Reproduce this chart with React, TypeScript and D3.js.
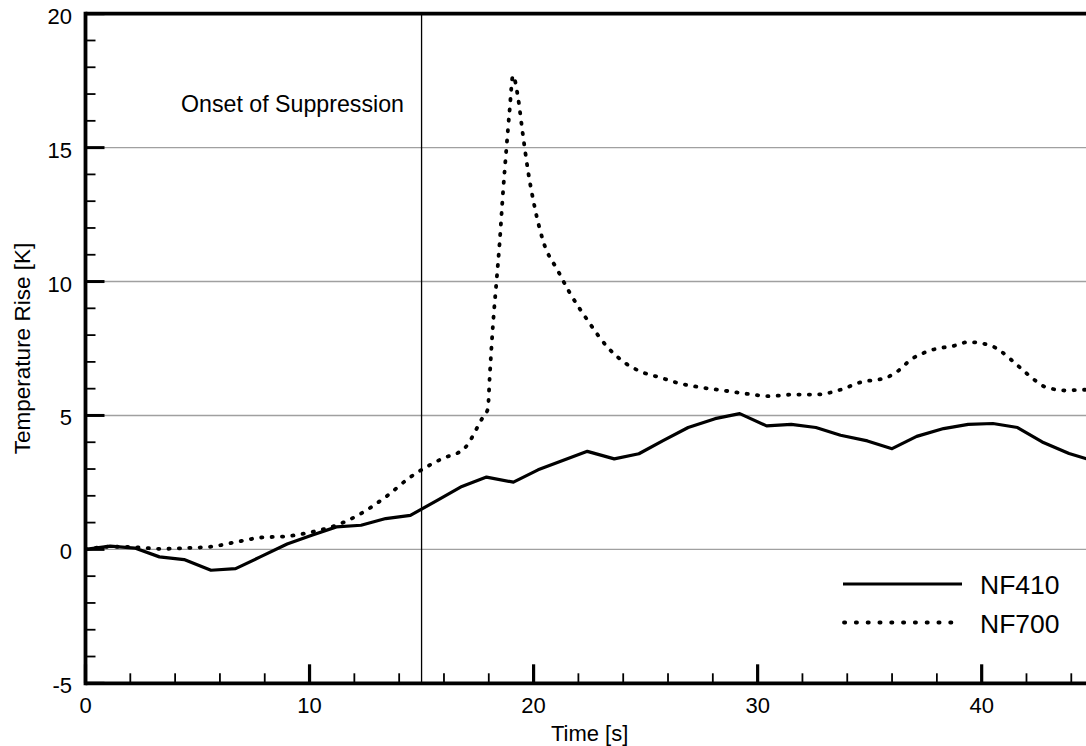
import React from "react";
import * as d3 from "d3";

const nf410Time = [0, 1.1, 2.2, 3.3, 4.4, 5.6, 6.7, 7.8, 9.0, 10.1, 11.2, 12.3, 13.4, 14.5, 15.7, 16.8, 17.9, 19.1, 20.2, 21.3, 22.4, 23.6, 24.7, 25.8, 26.9, 28.1, 29.2, 30.4, 31.5, 32.6, 33.7, 34.9, 36.0, 37.1, 38.3, 39.4, 40.5, 41.6, 42.7, 43.9, 45.0];
const nf410Values = [0, 0.12, 0.05, -0.28, -0.38, -0.78, -0.72, -0.28, 0.2, 0.53, 0.84, 0.9, 1.15, 1.27, 1.83, 2.35, 2.7, 2.51, 2.97, 3.32, 3.66, 3.38, 3.57, 4.07, 4.55, 4.88, 5.07, 4.61, 4.67, 4.55, 4.26, 4.05, 3.76, 4.22, 4.51, 4.67, 4.7, 4.55, 4.01, 3.58, 3.3];

const nf700Time = [0, 1.1, 2.2, 3.4, 4.5, 5.6, 6.7, 7.8, 9.0, 10.1, 11.2, 12.3, 13.4, 14.5, 15.9, 16.9, 17.7, 17.96, 18.04, 18.18, 18.36, 18.48, 18.63, 18.78, 18.93, 19.08, 19.3, 19.52, 19.75, 20.05, 20.42, 21.1, 21.6, 22.42, 23.3, 24.1, 25.0, 25.6, 26.5, 27.6, 28.5, 29.6, 30.5, 31.6, 32.6, 33.7, 34.6, 35.7, 36.1, 36.9, 37.8, 38.8, 39.4, 40.4, 40.8, 41.6, 42.4, 42.8, 43.8, 44.5, 45.0];
const nf700Values = [0, 0.1, 0.08, 0.02, 0.05, 0.1, 0.27, 0.44, 0.49, 0.65, 0.9, 1.34, 1.96, 2.7, 3.38, 3.76, 4.88, 5.25, 6.43, 8.3, 10.16, 11.4, 13.27, 14.9, 16.4, 17.69, 16.9, 15.5, 14.14, 12.77, 11.53, 10.38, 9.6, 8.54, 7.55, 6.95, 6.57, 6.43, 6.2, 6.03, 5.93, 5.8, 5.72, 5.78, 5.78, 5.96, 6.24, 6.4, 6.56, 7.12, 7.45, 7.61, 7.74, 7.61, 7.43, 6.87, 6.3, 6.08, 5.93, 5.96, 5.96];

const xMajorTicks = [0, 10, 20, 30, 40];
const xMinorTicks = [2, 4, 6, 8, 12, 14, 16, 18, 22, 24, 26, 28, 32, 34, 36, 38, 42, 44];
const yMajorTicks = [-5, 0, 5, 10, 15, 20];
const yMinorTicks = [-4, -3, -2, -1, 1, 2, 3, 4, 6, 7, 8, 9, 11, 12, 13, 14, 16, 17, 18, 19];
const gridValues = [0, 5, 10, 15];
const onsetTime = 15;
const seriesNames = ["NF410", "NF700"];
const xTitle = "Time [s]";
const yTitle = "Temperature Rise [K]";
const annotation = "Onset of Suppression";

const W = 1086;
const H = 746;
const FONT = "'Liberation Sans', Arial, Helvetica, sans-serif";

export default function App() {
  const x = d3.scaleLinear().domain([0, 45]).range([85.5, 1093.7]);
  const y = d3.scaleLinear().domain([-5, 20]).range([683.3, 13.7]);

  const line = d3.line<[number, number]>().x((d) => x(d[0])).y((d) => y(d[1]));
  const smooth = d3
    .line<[number, number]>()
    .x((d) => x(d[0]))
    .y((d) => y(d[1]))
    .curve(d3.curveMonotoneX);

  const nf410 = nf410Time.map((t, i) => [t, nf410Values[i]] as [number, number]);
  const nf700 = nf700Time.map((t, i) => [t, nf700Values[i]] as [number, number]);

  const x0 = x(0);
  const x1 = x(45);
  const yb = y(-5);
  const yt = y(20);

  return (
    <svg
      width={W}
      height={H}
      style={{ position: "absolute", left: 0, top: 0, background: "#fff" }}
      fontFamily={FONT}
    >
      <defs>
        <clipPath id="plot">
          <rect x={x0} y={yt} width={x1 - x0} height={yb - yt} />
        </clipPath>
      </defs>
      {gridValues.map((v) => (
        <line key={"g" + v} x1={x0} x2={x1} y1={y(v)} y2={y(v)} stroke="#a0a0a0" strokeWidth={1.4} />
      ))}
      <line x1={x(onsetTime)} x2={x(onsetTime)} y1={yb} y2={yt} stroke="#000" strokeWidth={1.3} />
      <text x={181} y={112} fontSize={23.2} fill="#000">
        {annotation}
      </text>
      <g clipPath="url(#plot)">
        <path d={line(nf410) || ""} fill="none" stroke="#000" strokeWidth={3.2} strokeLinejoin="round" />
        <path
          d={smooth(nf700) || ""}
          fill="none"
          stroke="#000"
          strokeWidth={3.8}
          strokeLinecap="round"
          strokeDasharray="1.2 9.2"
        />
      </g>
      {xMinorTicks.map((v) => (
        <line key={"xm" + v} x1={x(v)} x2={x(v)} y1={yb} y2={yb - 10} stroke="#000" strokeWidth={1.8} />
      ))}
      {xMajorTicks.map((v) => (
        <line key={"xM" + v} x1={x(v)} x2={x(v)} y1={yb} y2={yb - 19} stroke="#000" strokeWidth={3.2} />
      ))}
      {yMinorTicks.map((v) => (
        <line key={"ym" + v} x1={x0} x2={x0 + 10} y1={y(v)} y2={y(v)} stroke="#000" strokeWidth={1.8} />
      ))}
      {yMajorTicks.map((v) => (
        <line key={"yM" + v} x1={x0} x2={x0 + 19} y1={y(v)} y2={y(v)} stroke="#000" strokeWidth={3} />
      ))}
      <line x1={x0} x2={x1} y1={yb} y2={yb} stroke="#000" strokeWidth={3.8} />
      <line x1={x0} x2={x1} y1={yt} y2={yt} stroke="#000" strokeWidth={3.8} />
      <line x1={x0} x2={x0} y1={yt - 1.9} y2={yb + 1.9} stroke="#000" strokeWidth={3.8} />
      {xMajorTicks.map((v) => (
        <text key={"xl" + v} x={x(v)} y={713} fontSize={22} textAnchor="middle" fill="#000">
          {v}
        </text>
      ))}
      {yMajorTicks.map((v) => (
        <text key={"yl" + v} x={72} y={y(v) + 10} fontSize={22} textAnchor="end" fill="#000">
          {v}
        </text>
      ))}
      <text x={(x0 + x1) / 2} y={741} fontSize={22} textAnchor="middle" fill="#000">
        {xTitle}
      </text>
      <text
        transform={`translate(30, ${(yt + yb) / 2}) rotate(-90)`}
        fontSize={22.5}
        textAnchor="middle"
        fill="#000"
      >
        {yTitle}
      </text>
      <line x1={843} x2={962} y1={584} y2={584} stroke="#000" strokeWidth={3.2} />
      <text x={980} y={594} fontSize={26.5} fill="#000">
        {seriesNames[0]}
      </text>
      <line
        x1={844}
        x2={962}
        y1={622.5}
        y2={622.5}
        stroke="#000"
        strokeWidth={3.8}
        strokeLinecap="round"
        strokeDasharray="1.2 10.6"
      />
      <text x={980} y={632.5} fontSize={26.5} fill="#000">
        {seriesNames[1]}
      </text>
    </svg>
  );
}
